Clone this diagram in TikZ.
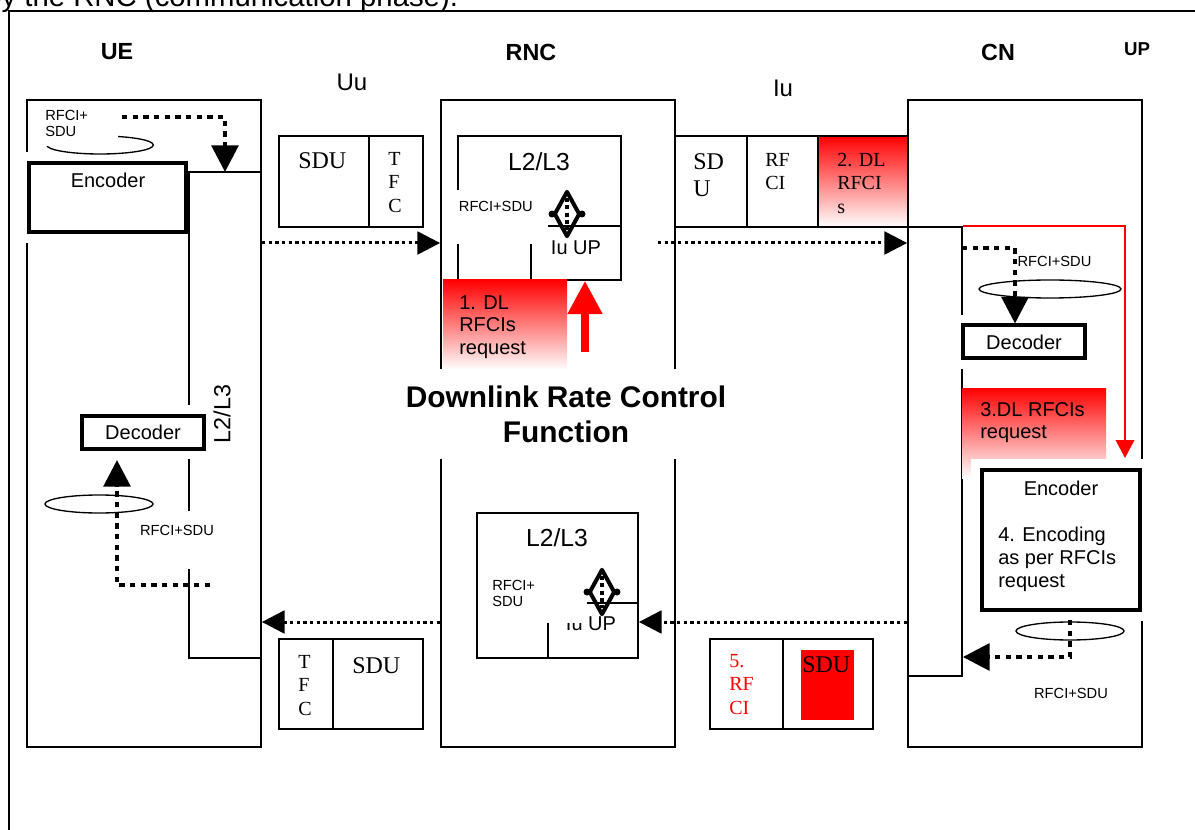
\documentclass[tikz,border=0pt]{standalone}
\usepackage{fontspec}
\setmainfont{Liberation Sans}
\newfontfamily\tms{Liberation Serif}
\usetikzlibrary{arrows.meta,calc,fit,shapes.geometric}

\begin{document}
\begin{tikzpicture}[
    x=0.75pt, y=-0.75pt,
    box/.style={draw, line width=1.3pt, inner sep=0pt},
    codec/.style={draw, line width=3pt, fill=white, inner sep=0pt, preaction={draw=white, line width=16pt}, font=\fontsize{15}{17}\selectfont},
    heading/.style={font=\bfseries\fontsize{17.5}{21}\selectfont},
    iface/.style={font=\fontsize{18}{21}\selectfont},
    txt/.style={font=\fontsize{15}{17}\selectfont},
    tag/.style={font=\fontsize{11}{12}\selectfont, align=left, inner sep=1pt},
    note/.style={font=\fontsize{15}{17}\selectfont, align=left, inner sep=0pt, anchor=north west},
    cell/.style={font=\tms\fontsize{15}{17.6}\selectfont, align=left, inner sep=0pt, anchor=north west},
    bigcell/.style={font=\tms\fontsize{18}{20.5}\selectfont, align=left, inner sep=0pt, anchor=north west},
    request/.style={top color=red, bottom color=white, inner sep=0pt},
    oval/.style={draw, ellipse, line width=1pt, inner sep=0pt, minimum height=13.5pt},
    lozenge/.style={draw, diamond, line width=3pt, line join=round, inner sep=0pt, minimum width=19.5pt, minimum height=34.5pt},
    dots/.style={line width=3pt, dash pattern=on 3pt off 2.5pt},
    flowarrow/.style={line width=2.25pt, dash pattern=on 2.5pt off 2.5pt, -{Triangle[length=17pt, width=17pt]}},
    looparrow/.style={line width=3pt, dash pattern=on 4pt off 4pt, -{Triangle[length=20pt, width=20pt]}},
    redline/.style={red, line width=1.1pt, -{Triangle[length=13.5pt, width=14pt]}},
    redup/.style={red, line width=5.5pt, -{Triangle[length=25pt, width=25pt]}},
]
\useasboundingbox (0,0) rectangle (1195,830);
\clip (0,0) rectangle (1195,830);

% Caption cut by the page and outer frame
\node[font=\fontsize{22}{26}\selectfont, anchor=base west, inner sep=0pt] (caption) at (-15,7) {by the RNC (communication phase).};
\draw[line width=1pt] (9,835) -- (9,11) -- (1200,11);

% Row levels of the transport arrows
\coordinate (rowA) at (0,243);
\coordinate (rowB) at (0,622);

% UE side
\node[heading] (uetitle) at (117,52) {UE};
\node[box, fit={(27,100)(261,747)}] (ue) {};
\node[codec, fit={(29,163)(186,232)}] (ueenc) {};
\node[box, fit={(189,172)(261,658)}] (uel23) {};
\node[txt] (ueenctxt) at (108,180) {Encoder};
\node[codec, minimum width=91.5pt, minimum height=24.75pt] (uedec) at (143,432) {Decoder};
\node[rotate=90, font=\fontsize{17.5}{20}\selectfont] (uel23txt) at (222,414) {L2/L3};
\node[oval, minimum width=80pt] (ueovalA) at (100,145) {};
\node[tag, fill=white, anchor=north west, inner sep=0pt, text width=54.75pt, minimum height=33.75pt] (uerfciA) at (45,101) {RFCI+\\SDU};
\node[oval, minimum width=81pt] (ueovalB) at (99,504) {};
\node[tag, fill=white, text height=17.25pt, text depth=24.75pt, anchor=base] (uerfciB) at (177,535) {RFCI+SDU};
\coordinate (ueIn) at (122,117);
\coordinate (ueDrop) at (225,172);
\draw[looparrow] (ueIn) -| (ueDrop);
\coordinate (ueRet) at (210,585);
\coordinate (ueUp) at (117,460);
\draw[looparrow] (ueRet) -| (ueUp);

% Uu interface frames
\node[iface] (uu) at (352,82) {Uu};
\node[box, fit={(279,136)(369,227)}] (uuSdu) {};
\node[box, fit={(369,136)(423,227)}] (uuTfc) {};
\node[bigcell] (uuSduTxt) at (298,152) {SDU};
\node[cell] (uuTfcTxt) at (388,152) {T\\F\\C};
\node[box, fit={(279,639)(333,729)}] (uuTfcB) {};
\node[box, fit={(333,639)(423,729)}] (uuSduB) {};
\node[cell] (uuTfcBTxt) at (298,655) {T\\F\\C};
\node[bigcell] (uuSduBTxt) at (352,657) {SDU};

% RNC
\node[heading] (rnctitle) at (531,52) {RNC};
\node[box, fit={(441,100)(675,747)}] (rnc) {};
\node[box, fit={(458,136)(621,280)}] (rncl23) {};
\node[box, fit={(531,226)(621,280)}] (rnciu) {};
\node[font=\fontsize{18.5}{22}\selectfont] (rncl23txt) at (539,162) {L2/L3};
\node[txt] (rnciutxt) at (576,248) {Iu UP};
\node[tag, fill=white, inner xsep=2pt, inner ysep=0pt, text width=65pt, text height=16.5pt, text depth=24pt, anchor=base west] (rncrfci) at (456,212) {RFCI+SDU};
\node[lozenge] (rncdia) at (567,214) {};
\draw[dots] ($(rncdia.north)+(0,9)$) -- ($(rncdia.south)+(0,-9)$);
\fill (rncdia.west) circle (3.5) (rncdia.east) circle (3.5);

\node[request, fit={(443,280)(567,370)}] (req1) {};
\node[note] (req1txt) at (459,295) {1. DL\\RFCIs\\request};
\coordinate (req1up) at (585,352);
\draw[redup] (req1up) -- (req1up |- rncl23.south);

\node[font=\bfseries\fontsize{22.4}{26.25}\selectfont, align=center, fill=white, minimum height=67.5pt] (drcf) at (566,414) {Downlink Rate Control\\Function};

\node[box, fit={(477,513)(638,658)}] (rncl23b) {};
\node[box, fit={(548,603)(638,658)}] (rnciub) {};
\node[font=\fontsize{18.5}{22}\selectfont] (rncl23btxt) at (557,538) {L2/L3};
\node[txt] (rnciubtxt) at (591,624) {Iu UP};
\node[tag, fill=white, anchor=north west, inner xsep=3pt, inner ysep=0pt, text width=68pt, minimum height=43pt] (rncrfcib) at (488,565) {RFCI+\\SDU};
\node[lozenge] (rncdiab) at (602,592) {};
\draw[dots] ($(rncdiab.north)+(0,9)$) -- ($(rncdiab.south)+(0,-9)$);
\fill (rncdiab.west) circle (3.5) (rncdiab.east) circle (3.5);

% Iu interface frames
\node[iface] (iu) at (783,88) {Iu};
\node[box, fit={(675,136)(747,227)}] (iuSdu) {};
\node[box, fit={(747,136)(818,227)}] (iuRfci) {};
\node[box, request, fit={(818,136)(908,227)}] (iuReq) {};
\node[bigcell] (iuSduTxt) at (693,153) {SD\\U};
\node[cell] (iuRfciTxt) at (765,153) {RF\\CI};
\node[cell] (iuReqTxt) at (837,153) {2. DL\\RFCI\\s};
\node[box, fit={(710,639)(783,729)}] (iuRfciB) {};
\node[box, fit={(783,639)(873,729)}] (iuSduB) {};
\node[fill=red, inner sep=0pt, fit={(801,650)(854,720)}] (iuSduRed) {};
\node[cell, text=red] (iuRfciBTxt) at (729,654) {5.\\RF\\CI};
\node[bigcell] (iuSduBTxt) at (802,656) {SDU};

% CN
\node[heading] (cntitle) at (998,52) {CN};
\node[font=\bfseries\fontsize{14}{17}\selectfont] (up) at (1137,49) {UP};
\node[box, fit={(908,100)(1142,747)}] (cn) {};
\node[box, fit={(908,227)(962,676)}] (cnl23) {};
\node[request, fit={(962,388)(1106,478)}] (cnReq) {};
\node[note] (cnReqTxt) at (980,402) {3.DL RFCIs\\request};
\node[codec, minimum width=91.5pt, minimum height=24.75pt] (cndec) at (1024,342) {Decoder};
\node[codec, fit={(982,470)(1140,610)}] (cnenc) {};
\node[txt] (cnenctxt) at (1061,488) {Encoder};
\node[note] (cnenctask) at (998,527) {4. Encoding\\as per RFCIs\\request};
\node[oval, minimum width=106.5pt] (cnovalA) at (1050,289) {};
\node[tag, anchor=west] (cnrfciA) at (1016,261) {RFCI+SDU};
\node[oval, minimum width=81pt] (cnovalB) at (1070,631) {};
\node[tag] (cnrfciB) at (1071,693) {RFCI+SDU};
\coordinate (cnIn) at (962,248);
\draw[looparrow] (cnIn) -| ($(cndec.north)+(-9,0)$);
\coordinate (cnRed) at (1125,458);
\draw[redline] (cnl23.north east) -| (cnRed);
\coordinate (cnOut) at (1070,620);
\coordinate (cnBack) at (1070,657);
\draw[looparrow] (cnOut) -- (cnBack) -- (cnl23.east |- cnBack);

% Transport arrows
\draw[flowarrow] (uel23.east |- rowA) -- (rnc.west |- rowA);
\coordinate (iuStart) at (658,243);
\draw[flowarrow] (iuStart) -- (cnl23.west |- rowA);
\draw[flowarrow] (cnl23.west |- rowB) -- (rncl23b.east |- rowB);
\draw[flowarrow] (rnc.west |- rowB) -- (uel23.east |- rowB);

\end{tikzpicture}
\end{document}
